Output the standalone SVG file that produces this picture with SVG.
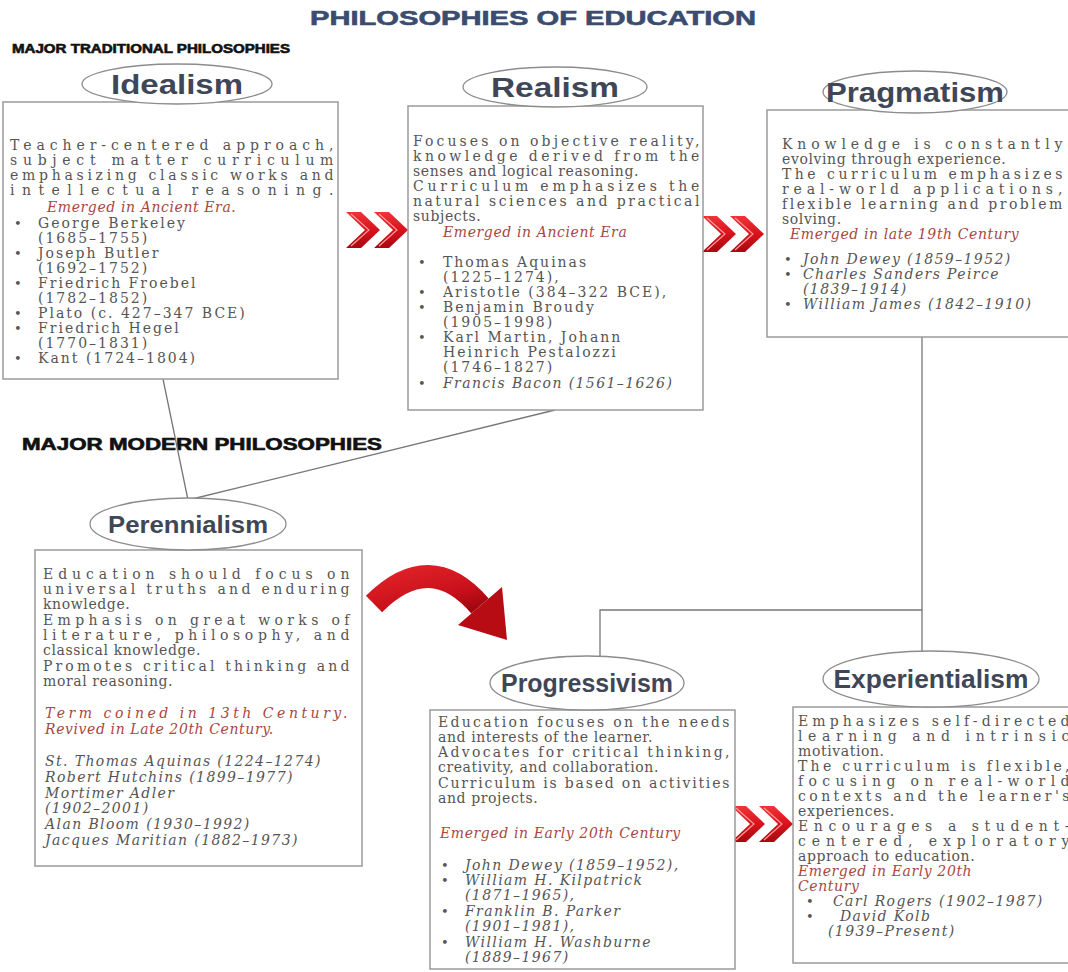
<svg xmlns="http://www.w3.org/2000/svg" width="1068" height="972" viewBox="0 0 1068 972">
<defs>
<style>
.box{fill:#fff;stroke:#9a9a9a;stroke-width:1.5}
.ell{fill:#fff;stroke:#8c8c8c;stroke-width:1.3}
.lbl{font-family:"Liberation Sans",Arial,sans-serif;font-weight:bold;fill:#3f4757;text-anchor:middle}
.t{font-family:"DejaVu Serif",serif;font-size:14px;fill:#555;letter-spacing:0.6px}
.n{font-family:"DejaVu Serif",serif;font-size:14px;fill:#555;letter-spacing:2px}
.ni{font-family:"DejaVu Serif",serif;font-size:14px;fill:#555;font-style:italic;letter-spacing:1.4px}
.em{font-family:"DejaVu Serif",serif;font-size:14px;fill:#a8473f;font-style:italic;letter-spacing:0.6px}
.b{font-family:"DejaVu Serif",serif;font-size:13px;fill:#555}
.conn{stroke:#777;stroke-width:1.3;fill:none}
.hd{font-family:"Liberation Sans",Arial,sans-serif;font-weight:900;fill:#111;stroke:#111;stroke-width:0.6}
.chev{fill:url(#chevGrad)}
.hl{fill:none;stroke:#ff9a9a;stroke-width:1.2}
</style>
<linearGradient id="chevGrad" x1="0" y1="0" x2="0" y2="1">
<stop offset="0" stop-color="#f0343a"/>
<stop offset="0.5" stop-color="#d8121c"/>
<stop offset="1" stop-color="#a80810"/>
</linearGradient>
<linearGradient id="arrowGrad" gradientUnits="userSpaceOnUse" x1="420" y1="550" x2="440" y2="630">
<stop offset="0" stop-color="#e8282c"/>
<stop offset="0.6" stop-color="#c8101a"/>
<stop offset="1" stop-color="#8a0008"/>
</linearGradient>
<g id="chev2">
<polygon class="chev" points="0,0 15,0 34,18 15,36 0,36 19,18"/>
<polygon class="chev" points="28,0 43,0 62,18 43,36 28,36 47,18"/>
<polyline class="hl" points="5,2 23,18 5,34"/>
<polyline class="hl" points="33,2 51,18 33,34"/>
</g>
</defs>
<rect width="1068" height="972" fill="#fff"/>

<text class="hd" x="533" y="25" font-size="20" text-anchor="middle" textLength="446" lengthAdjust="spacingAndGlyphs" style="fill:#3b4c70;stroke:#3b4c70">PHILOSOPHIES OF EDUCATION</text>
<text class="hd" x="12" y="53" font-size="12.5" textLength="278" lengthAdjust="spacingAndGlyphs">MAJOR TRADITIONAL PHILOSOPHIES</text>
<text class="hd" x="22" y="450" font-size="16" textLength="360" lengthAdjust="spacingAndGlyphs">MAJOR MODERN PHILOSOPHIES</text>

<g id="connectors">
<line class="conn" x1="163" y1="379" x2="188" y2="500"/>
<line class="conn" x1="555" y1="410" x2="188" y2="500"/>
<polyline class="conn" points="922,337 922,610 600,610 600,660"/>
<line class="conn" x1="922" y1="610" x2="922" y2="655"/>
</g>

<g id="arrows">
<use href="#chev2" x="346" y="212"/>
<use href="#chev2" x="702" y="216"/>
<use href="#chev2" x="731" y="806"/>
<path d="M374,604 Q430,548 480,606" stroke="url(#arrowGrad)" stroke-width="23" fill="none"/>
<polygon points="458,625 502,587 507,640" fill="#b80c14"/>
</g>

<g id="idealism">
<rect class="box" x="3" y="102" width="335" height="277"/>
<ellipse class="ell" cx="177" cy="84" rx="95" ry="20"/>
<text class="lbl" x="177" y="94" font-size="27" textLength="132" lengthAdjust="spacingAndGlyphs">Idealism</text>
<text class="t" x="10" y="150" textLength="324">Teacher-centered approach,</text>
<text class="t" x="10" y="165" textLength="324">subject matter curriculum</text>
<text class="t" x="10" y="180" textLength="324">emphasizing classic works and</text>
<text class="t" x="10" y="195" textLength="324">intellectual reasoning.</text>
<text class="em" x="47" y="212">Emerged in Ancient Era.</text>
<text class="b" x="14" y="228">•</text><text class="n" x="38" y="228">George Berkeley</text>
<text class="n" x="38" y="243">(1685–1755)</text>
<text class="b" x="14" y="258">•</text><text class="n" x="38" y="258">Joseph Butler</text>
<text class="n" x="38" y="273">(1692–1752)</text>
<text class="b" x="14" y="288">•</text><text class="n" x="38" y="288">Friedrich Froebel</text>
<text class="n" x="38" y="303">(1782–1852)</text>
<text class="b" x="14" y="318">•</text><text class="n" x="38" y="318">Plato (c. 427–347 BCE)</text>
<text class="b" x="14" y="333">•</text><text class="n" x="38" y="333">Friedrich Hegel</text>
<text class="n" x="38" y="348">(1770–1831)</text>
<text class="b" x="14" y="363">•</text><text class="n" x="38" y="363">Kant (1724–1804)</text>
</g>

<g id="realism">
<rect class="box" x="408" y="106" width="295" height="304"/>
<ellipse class="ell" cx="555" cy="87" rx="92" ry="20"/>
<text class="lbl" x="555" y="97" font-size="27" textLength="128" lengthAdjust="spacingAndGlyphs">Realism</text>
<text class="t" x="413" y="146" textLength="287">Focuses on objective reality,</text>
<text class="t" x="413" y="161" textLength="287">knowledge derived from the</text>
<text class="t" x="413" y="176">senses and logical reasoning.</text>
<text class="t" x="413" y="191" textLength="287">Curriculum emphasizes the</text>
<text class="t" x="413" y="206" textLength="287">natural sciences and practical</text>
<text class="t" x="413" y="221">subjects.</text>
<text class="em" x="443" y="237">Emerged in Ancient Era</text>
<text class="b" x="418" y="267">•</text><text class="n" x="443" y="267">Thomas Aquinas</text>
<text class="n" x="443" y="282">(1225–1274),</text>
<text class="b" x="418" y="297">•</text><text class="n" x="443" y="297">Aristotle (384–322 BCE),</text>
<text class="b" x="418" y="312">•</text><text class="n" x="443" y="312">Benjamin Broudy</text>
<text class="n" x="443" y="327">(1905–1998)</text>
<text class="b" x="418" y="342">•</text><text class="n" x="443" y="342">Karl Martin, Johann</text>
<text class="n" x="443" y="357">Heinrich Pestalozzi</text>
<text class="n" x="443" y="372">(1746–1827)</text>
<text class="b" x="418" y="388">•</text><text class="ni" x="443" y="388">Francis Bacon (1561–1626)</text>
</g>

<g id="pragmatism">
<rect class="box" x="767" y="110" width="310" height="227"/>
<ellipse class="ell" cx="915" cy="92" rx="92" ry="21"/>
<text class="lbl" x="915" y="102" font-size="27" textLength="178" lengthAdjust="spacingAndGlyphs">Pragmatism</text>
<text class="t" x="782" y="149" textLength="281">Knowledge is constantly</text>
<text class="t" x="782" y="164">evolving through experience.</text>
<text class="t" x="782" y="179" textLength="281">The curriculum emphasizes</text>
<text class="t" x="782" y="194" textLength="281">real-world applications,</text>
<text class="t" x="782" y="209" textLength="281">flexible learning and problem</text>
<text class="t" x="782" y="224">solving.</text>
<text class="em" x="790" y="239">Emerged in late 19th Century</text>
<text class="b" x="784" y="264">•</text><text class="ni" x="803" y="264">John Dewey (1859–1952)</text>
<text class="b" x="784" y="279">•</text><text class="ni" x="803" y="279">Charles Sanders Peirce</text>
<text class="ni" x="803" y="294">(1839–1914)</text>
<text class="b" x="784" y="309">•</text><text class="ni" x="803" y="309">William James (1842–1910)</text>
</g>

<g id="perennialism">
<rect class="box" x="35" y="550" width="327" height="316"/>
<ellipse class="ell" cx="188" cy="524" rx="98" ry="26"/>
<text class="lbl" x="188" y="533" font-size="24" textLength="160" lengthAdjust="spacingAndGlyphs">Perennialism</text>
<text class="t" x="43" y="579" textLength="307">Education should focus on</text>
<text class="t" x="43" y="594" textLength="307">universal truths and enduring</text>
<text class="t" x="43" y="609">knowledge.</text>
<text class="t" x="43" y="625" textLength="307">Emphasis on great works of</text>
<text class="t" x="43" y="640" textLength="307">literature, philosophy, and</text>
<text class="t" x="43" y="655">classical knowledge.</text>
<text class="t" x="43" y="671" textLength="307">Promotes critical thinking and</text>
<text class="t" x="43" y="686">moral reasoning.</text>
<text class="em" x="45" y="718" textLength="303">Term coined in 13th Century.</text>
<text class="em" x="45" y="734">Revived in Late 20th Century.</text>
<text class="ni" x="45" y="766">St. Thomas Aquinas (1224–1274)</text>
<text class="ni" x="45" y="782">Robert Hutchins (1899–1977)</text>
<text class="ni" x="45" y="798">Mortimer Adler</text>
<text class="ni" x="45" y="813">(1902–2001)</text>
<text class="ni" x="45" y="829">Alan Bloom (1930–1992)</text>
<text class="ni" x="45" y="845">Jacques Maritian (1882–1973)</text>
</g>

<g id="progressivism">
<rect class="box" x="430" y="710" width="305" height="259"/>
<ellipse class="ell" cx="587" cy="683" rx="97" ry="27"/>
<text class="lbl" x="587" y="692" font-size="25" textLength="172" lengthAdjust="spacingAndGlyphs">Progressivism</text>
<text class="t" x="438" y="727" textLength="292">Education focuses on the needs</text>
<text class="t" x="438" y="742">and interests of the learner.</text>
<text class="t" x="438" y="757" textLength="292">Advocates for critical thinking,</text>
<text class="t" x="438" y="772">creativity, and collaboration.</text>
<text class="t" x="438" y="788" textLength="292">Curriculum is based on activities</text>
<text class="t" x="438" y="803">and projects.</text>
<text class="em" x="440" y="838">Emerged in Early 20th Century</text>
<text class="b" x="441" y="870">•</text><text class="ni" x="465" y="870">John Dewey (1859–1952),</text>
<text class="b" x="441" y="885">•</text><text class="ni" x="465" y="885">William H. Kilpatrick</text>
<text class="ni" x="465" y="900">(1871–1965),</text>
<text class="b" x="441" y="916">•</text><text class="ni" x="465" y="916">Franklin B. Parker</text>
<text class="ni" x="465" y="931">(1901–1981),</text>
<text class="b" x="441" y="947">•</text><text class="ni" x="465" y="947">William H. Washburne</text>
<text class="ni" x="465" y="962">(1889–1967)</text>
</g>

<g id="experientialism">
<rect class="box" x="793" y="707" width="285" height="256"/>
<ellipse class="ell" cx="931" cy="679" rx="108" ry="28"/>
<text class="lbl" x="931" y="688" font-size="25" textLength="195" lengthAdjust="spacingAndGlyphs">Experientialism</text>
<text class="t" x="798" y="726" textLength="272">Emphasizes self-directed</text>
<text class="t" x="798" y="741" textLength="272">learning and intrinsic</text>
<text class="t" x="798" y="756">motivation.</text>
<text class="t" x="798" y="771" textLength="272">The curriculum is flexible,</text>
<text class="t" x="798" y="786" textLength="272">focusing on real-world</text>
<text class="t" x="798" y="801" textLength="272">contexts and the learner's</text>
<text class="t" x="798" y="816">experiences.</text>
<text class="t" x="798" y="831" textLength="272">Encourages a student-</text>
<text class="t" x="798" y="846" textLength="272">centered, exploratory</text>
<text class="t" x="798" y="861">approach to education.</text>
<text class="em" x="798" y="876">Emerged in Early 20th</text>
<text class="em" x="798" y="891">Century</text>
<text class="b" x="806" y="906">•</text><text class="ni" x="833" y="906">Carl Rogers (1902–1987)</text>
<text class="b" x="806" y="921">•</text><text class="ni" x="840" y="921">David Kolb</text>
<text class="ni" x="828" y="936">(1939–Present)</text>
</g>
</svg>
